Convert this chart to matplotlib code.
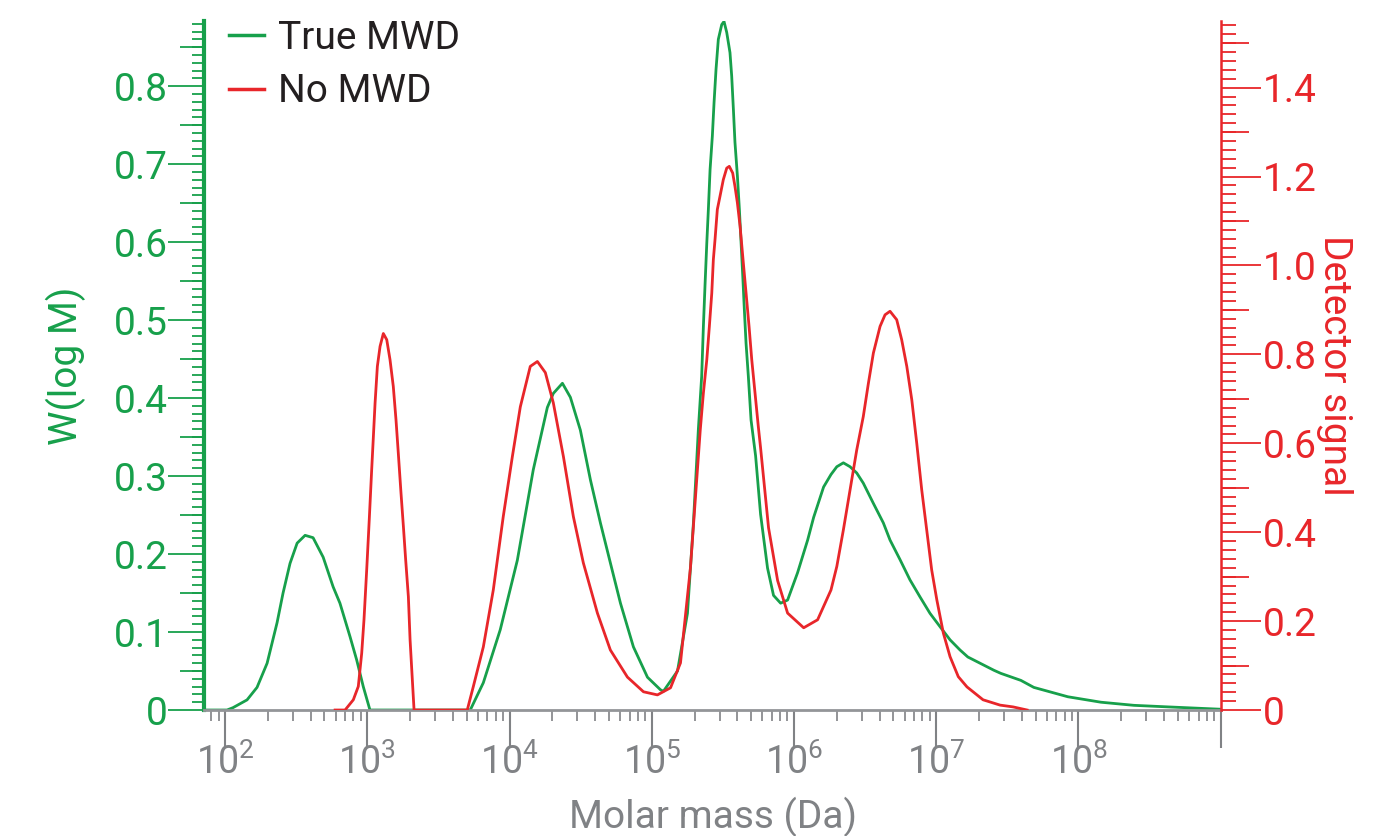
import numpy as np
import matplotlib
matplotlib.use("Agg")
import matplotlib.pyplot as plt
from matplotlib.ticker import MultipleLocator, LogLocator, FuncFormatter, FixedLocator, NullFormatter
from matplotlib.lines import Line2D

plt.rcParams['font.family'] = ['Roboto', 'DejaVu Sans']

# log10 of molar mass and W(log M) for the true distribution
true_logm = [1.855, 2.014, 2.056, 2.155, 2.225, 2.296, 2.366, 2.408, 2.457, 2.507, 2.563,
             2.619, 2.690, 2.760, 2.808, 2.879, 2.926, 2.972, 3.019, 3.724, 3.816, 3.935,
             4.055, 4.167, 4.266, 4.308, 4.372, 4.428, 4.498, 4.569, 4.639, 4.710, 4.780,
             4.871, 4.970, 5.061, 5.082, 5.181, 5.251, 5.293, 5.328, 5.351, 5.363, 5.375,
             5.387, 5.398, 5.410, 5.426, 5.438, 5.452, 5.468, 5.492, 5.508, 5.527, 5.550,
             5.562, 5.574, 5.585, 5.602, 5.616, 5.628, 5.640, 5.651, 5.663, 5.679, 5.698,
             5.730, 5.765, 5.814, 5.856, 5.906, 5.955, 6.025, 6.096, 6.138, 6.208, 6.260,
             6.301, 6.347, 6.394, 6.441, 6.487, 6.558, 6.628, 6.675, 6.745, 6.815, 6.886,
             6.956, 7.026, 7.097, 7.167, 7.222, 7.405, 7.454, 7.595, 7.686, 7.925, 8.158,
             8.390, 8.629, 9.0]
true_w = [0, 0, 0.003, 0.013, 0.029, 0.060, 0.112, 0.150, 0.188, 0.214, 0.224,
          0.221, 0.196, 0.158, 0.137, 0.094, 0.064, 0.030, 0, 0, 0.035, 0.103,
          0.192, 0.308, 0.388, 0.406, 0.419, 0.401, 0.359, 0.295, 0.240, 0.188, 0.137,
          0.081, 0.042, 0.026, 0.024, 0.050, 0.124, 0.240, 0.361, 0.428, 0.492, 0.547,
          0.599, 0.642, 0.693, 0.736, 0.779, 0.822, 0.860, 0.879, 0.883, 0.869, 0.843,
          0.813, 0.770, 0.728, 0.685, 0.642, 0.599, 0.556, 0.513, 0.470, 0.428, 0.372,
          0.326, 0.251, 0.182, 0.147, 0.137, 0.141, 0.176, 0.218, 0.247, 0.286, 0.302,
          0.312, 0.317, 0.312, 0.304, 0.291, 0.265, 0.240, 0.218, 0.193, 0.167, 0.145,
          0.124, 0.107, 0.090, 0.077, 0.068, 0.051, 0.047, 0.038, 0.029, 0.017, 0.010,
          0.006, 0.004, 0.001]

# detector signal without MWD correction
no_logm = [2.774, 2.844, 2.902, 2.937, 2.961, 2.977, 2.996, 3.014, 3.031, 3.043, 3.055,
           3.071, 3.090, 3.113, 3.137, 3.160, 3.183, 3.202, 3.218, 3.237, 3.254, 3.270,
           3.289, 3.301, 3.313, 3.329, 3.703, 3.745, 3.816, 3.886, 3.956, 4.020, 4.076,
           4.146, 4.196, 4.252, 4.308, 4.379, 4.449, 4.519, 4.618, 4.709, 4.829, 4.942,
           5.040, 5.132, 5.202, 5.272, 5.341, 5.363, 5.387, 5.405, 5.422, 5.433, 5.445,
           5.461, 5.480, 5.503, 5.527, 5.545, 5.569, 5.585, 5.602, 5.621, 5.644, 5.663,
           5.684, 5.703, 5.726, 5.749, 5.765, 5.821, 5.885, 5.955, 6.068, 6.166, 6.260,
           6.301, 6.347, 6.394, 6.441, 6.487, 6.523, 6.558, 6.605, 6.640, 6.675, 6.722,
           6.757, 6.793, 6.828, 6.863, 6.898, 6.933, 6.968, 7.004, 7.050, 7.097, 7.155,
           7.216, 7.329, 7.449, 7.540, 7.639]
no_sig = [0, 0, 0.023, 0.053, 0.128, 0.203, 0.315, 0.428, 0.540, 0.615, 0.691,
          0.773, 0.818, 0.847, 0.833, 0.788, 0.728, 0.653, 0.579, 0.489, 0.413, 0.338,
          0.255, 0.158, 0.090, 0, 0, 0.052, 0.142, 0.270, 0.435, 0.570, 0.682,
          0.773, 0.784, 0.759, 0.691, 0.570, 0.435, 0.331, 0.218, 0.135, 0.074, 0.041,
          0.034, 0.050, 0.106, 0.320, 0.630, 0.713, 0.788, 0.863, 0.938, 1.013, 1.059,
          1.126, 1.156, 1.193, 1.219, 1.223, 1.208, 1.178, 1.141, 1.088, 1.005, 0.938,
          0.863, 0.788, 0.713, 0.638, 0.590, 0.410, 0.291, 0.218, 0.185, 0.203, 0.270,
          0.323, 0.405, 0.495, 0.585, 0.660, 0.735, 0.803, 0.863, 0.889, 0.897, 0.878,
          0.833, 0.773, 0.698, 0.600, 0.495, 0.405, 0.315, 0.248, 0.173, 0.120, 0.075,
          0.052, 0.023, 0.011, 0.007, 0]

x_major = [1e2, 1e3, 1e4, 1e5, 1e6, 1e7, 1e8, 1e9]

green = '#17a04b'
red = '#e8262a'
grey = '#808285'
txt = '#231f20'

fig = plt.figure(figsize=(13.85, 8.36), dpi=100)
ax = fig.add_axes([0.1475, 0.1507, 0.7339, 0.8242])
ax2 = ax.twinx()

ax.plot(10 ** np.array(true_logm), true_w, color=green, lw=2)
ax2.plot(10 ** np.array(no_logm), no_sig, color=red, lw=2)

ax.set_xscale('log')
ax.set_xlim(71.5, 1e9)
ax.set_ylim(0, 0.8836)
ax2.set_ylim(0, 1.55)

# x axis
ax.xaxis.set_major_locator(FixedLocator(x_major))
ax.xaxis.set_minor_locator(LogLocator(base=10, subs=np.arange(2, 10), numticks=100))
ax.xaxis.set_minor_formatter(NullFormatter())
ax.xaxis.set_major_formatter(FuncFormatter(
    lambda v, _: '' if v >= 1e9 else r'$\mathdefault{10^{%d}}$' % round(np.log10(v))))
ax.tick_params(axis='x', which='major', length=27, width=1.5, color=grey,
               labelcolor=grey, labelsize=27, pad=-3)
ax.tick_params(axis='x', which='minor', length=8, width=1.2, color=grey)
ax.set_xlabel('Molar mass (Da)', color=grey, fontsize=28, labelpad=11)

# left axis
ax.yaxis.set_major_locator(MultipleLocator(0.1))
ax.yaxis.set_minor_locator(MultipleLocator(0.01))
ax.yaxis.set_major_formatter(FuncFormatter(lambda v, _: '0' if abs(v) < 1e-9 else '%.1f' % v))
ax.tick_params(axis='y', which='major', length=26, width=1.3, color=green,
               labelcolor=green, labelsize=28, pad=0)
ax.tick_params(axis='y', which='minor', length=9, width=1.3, color=green)
ax.set_ylabel('W(log M)', color=green, fontsize=28, labelpad=20)

# right axis
ax2.yaxis.set_major_locator(MultipleLocator(0.2))
ax2.yaxis.set_minor_locator(MultipleLocator(0.02))
ax2.yaxis.set_major_formatter(FuncFormatter(lambda v, _: '0' if abs(v) < 1e-9 else '%.1f' % v))
ax2.tick_params(axis='y', which='major', length=29, width=1.3, color=red,
                labelcolor=red, labelsize=28, pad=1)
ax2.tick_params(axis='y', which='minor', length=11, width=1.3, color=red)
ax2.set_ylabel('Detector signal', color=red, fontsize=28, rotation=270, labelpad=26)

# medium ticks
sec_l = ax.secondary_yaxis('left')
sec_l.yaxis.set_major_locator(FixedLocator([0.05, 0.15, 0.25, 0.35, 0.45, 0.55, 0.65, 0.75, 0.85]))
sec_l.yaxis.set_minor_locator(FixedLocator([]))
sec_l.tick_params(axis='y', length=17, width=1.3, color=green, labelleft=False)
sec_l.spines['left'].set_visible(False)

sec_r = ax2.secondary_yaxis('right')
sec_r.yaxis.set_major_locator(FixedLocator([0.1, 0.3, 0.5, 0.7, 0.9, 1.1, 1.3, 1.5]))
sec_r.yaxis.set_minor_locator(FixedLocator([]))
sec_r.tick_params(axis='y', length=20, width=1.3, color=red, labelright=False)
sec_r.spines['right'].set_visible(False)

for s in ['top', 'right']:
    ax.spines[s].set_visible(False)
for s in ['top', 'left', 'bottom']:
    ax2.spines[s].set_visible(False)
ax.spines['left'].set_color(green)
ax.spines['left'].set_linewidth(3)
ax.spines['bottom'].set_color('#939598')
ax.spines['bottom'].set_linewidth(2)
ax2.spines['right'].set_color(red)
ax2.spines['right'].set_linewidth(1.8)

handles = [Line2D([], [], color=green, lw=2.5), Line2D([], [], color=red, lw=2.5)]
leg = ax.legend(handles, ['True MWD', 'No MWD'], loc='upper left',
                bbox_to_anchor=(229 / 1385, 1 - 20 / 836), bbox_transform=fig.transFigure,
                frameon=False, fontsize=28, handlelength=0.9, handletextpad=0.35,
                labelspacing=0.42, borderpad=0, borderaxespad=0)
for t in leg.get_texts():
    t.set_color(txt)

fig.savefig('out.png', dpi=100)
